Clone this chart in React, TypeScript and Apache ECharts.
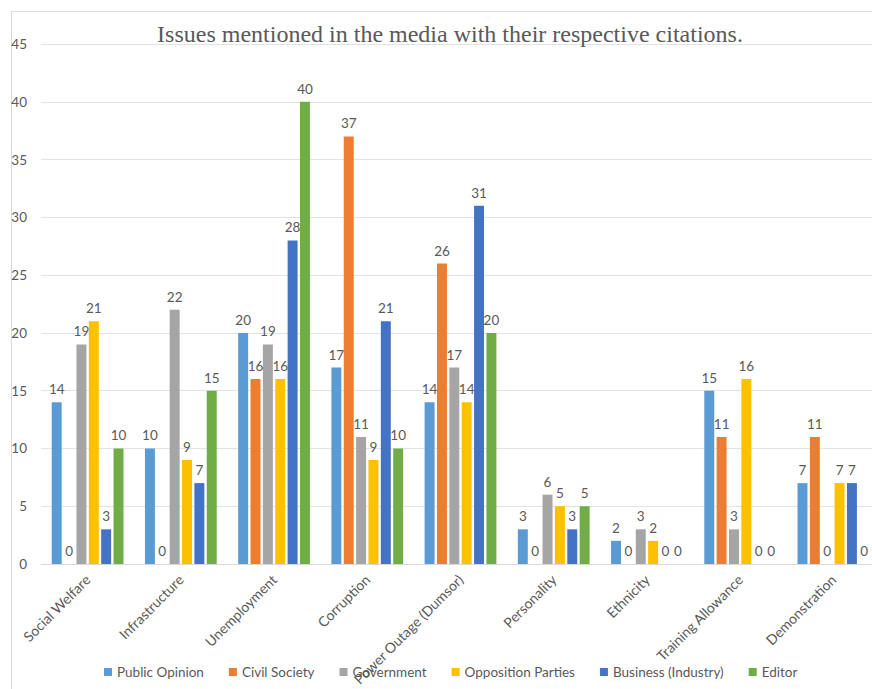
import React, { useEffect, useRef } from "react";
import * as echarts from "echarts";

const categories = [
  "Social Welfare",
  "Infrastructure",
  "Unemployment",
  "Corruption",
  "Power Outage (Dumsor)",
  "Personality",
  "Ethnicity",
  "Training Allowance",
  "Demonstration",
];

const publicOpinion = [14, 10, 20, 17, 14, 3, 2, 15, 7];
const civilSociety = [0, 0, 16, 37, 26, 0, 0, 11, 11];
const government = [19, 22, 19, 11, 17, 6, 3, 3, 0];
const oppositionParties = [21, 9, 16, 9, 14, 5, 2, 16, 7];
const business = [3, 7, 28, 21, 31, 3, 0, 0, 7];
const editor = [10, 15, 40, 10, 20, 5, 0, 0, 0];

const seriesNames = [
  "Public Opinion",
  "Civil Society",
  "Government",
  "Opposition Parties",
  "Business (Industry)",
  "Editor",
];
const seriesData = [publicOpinion, civilSociety, government, oppositionParties, business, editor];
const colors = ["#5B9BD5", "#ED7D31", "#A5A5A5", "#FFC000", "#4472C4", "#70AD47"];

const FONT = "Lato, 'Noto Sans', sans-serif";
const TEXT = "#595959";

export default function App() {
  const ref = useRef<HTMLDivElement>(null);
  useEffect(() => {
    if (!ref.current) return;
    const chart = echarts.init(ref.current, undefined, { renderer: "svg" });
    chart.setOption({
      animation: false,
      backgroundColor: "#ffffff",
      color: colors,
      title: {
        text: "Issues mentioned in the media with their respective citations.",
        left: 445,
        top: 17,
        textAlign: "center",
        textStyle: {
          fontFamily: "'Liberation Serif', 'Times New Roman', serif",
          fontWeight: "normal",
          fontSize: 24,
          color: TEXT,
        },
      },
      graphic: [
        {
          type: "rect",
          left: 9,
          top: 9,
          shape: { x: 0, y: 0, width: 900, height: 900 },
          style: { fill: "none", stroke: "#d9d9d9", lineWidth: 1 },
          silent: true,
        },
      ],
      legend: {
        top: 660,
        left: 99,
        itemWidth: 8,
        itemHeight: 8,
        itemGap: 25,
        icon: "rect",
        textStyle: { fontFamily: FONT, fontSize: 13.5, color: TEXT },
        data: seriesNames,
      },
      grid: {
        left: 41,
        right: -8,
        top: 44,
        bottom: 125,
        containLabel: false,
        outerBoundsMode: "none",
      },
      xAxis: {
        type: "category",
        data: categories,
        axisTick: { show: false },
        axisLine: { lineStyle: { color: "#d9d9d9" } },
        axisLabel: {
          interval: 0,
          rotate: 45,
          margin: 13,
          fontFamily: FONT,
          fontSize: 14,
          color: TEXT,
        },
      },
      yAxis: {
        type: "value",
        min: 0,
        max: 45,
        interval: 5,
        axisLine: { show: false },
        axisTick: { show: false },
        splitLine: { lineStyle: { color: "#e3e3e3" } },
        axisLabel: { margin: 14, fontFamily: FONT, fontSize: 13.5, color: TEXT },
      },
      series: seriesNames.map((name, i) => ({
        name,
        type: "bar",
        data: seriesData[i],
        barGap: "24%",
        barCategoryGap: "23%",
        itemStyle: { color: colors[i] },
        label: {
          show: true,
          position: "top",
          distance: 6,
          fontFamily: FONT,
          fontSize: 13.5,
          color: TEXT,
        },
      })),
    });
    return () => chart.dispose();
  }, []);
  return (
    <div
      ref={ref}
      style={{ position: "fixed", left: 0, top: 0, width: 872, height: 689, overflow: "hidden" }}
    />
  );
}
